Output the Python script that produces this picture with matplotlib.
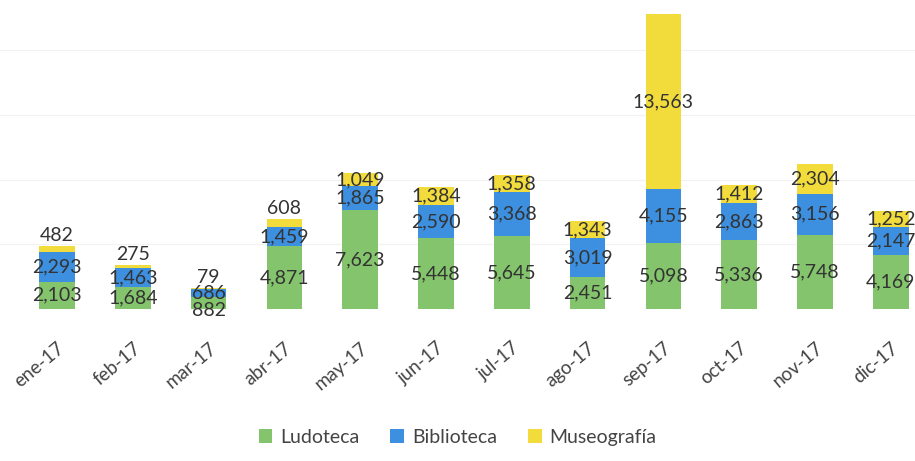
# Visitantes por mes 2017 - barras apiladas

import numpy as np
import matplotlib.pyplot as plt

plt.rcParams['font.family'] = ['Lato', 'DejaVu Sans']

# Datos
meses = ['ene-17', 'feb-17', 'mar-17', 'abr-17', 'may-17', 'jun-17',
         'jul-17', 'ago-17', 'sep-17', 'oct-17', 'nov-17', 'dic-17']
ludoteca = [2103, 1684, 882, 4871, 7623, 5448, 5645, 2451, 5098, 5336, 5748, 4169]
biblioteca = [2293, 1463, 686, 1459, 1865, 2590, 3368, 3019, 4155, 2863, 3156, 2147]
museografia = [482, 275, 79, 608, 1049, 1384, 1358, 1343, 13563, 1412, 2304, 1252]

series = [('Ludoteca', ludoteca, '#84c46c'),
          ('Biblioteca', biblioteca, '#3d8fe0'),
          ('Museografía', museografia, '#f2dc3c')]

fig = plt.figure(figsize=(9.15, 4.61), dpi=100)
ax = fig.add_axes([0, 0.33, 1, 0.645])

x = np.arange(len(meses))
base = np.zeros(len(meses))
for nombre, vals, color in series:
    vals = np.array(vals)
    ax.bar(x, vals, 0.47, bottom=base, color=color, label=nombre,
           edgecolor='none')
    for xi, b, v in zip(x, base, vals):
        if nombre == 'Museografía' and v < 700:
            # etiqueta encima de la barra cuando el segmento es pequeño
            ax.text(xi, b + v + 150, f'{v:,}', ha='center', va='bottom',
                    fontsize=14, color='#333333')
        elif nombre == 'Ludoteca' and v < 1000:
            # barra muy baja: etiqueta pegada a la base
            ax.text(xi, b + v / 2 - 550, f'{v:,}', ha='center', va='center',
                    fontsize=14, color='#333333', clip_on=False)
        else:
            ax.text(xi, b + v / 2, f'{v:,}', ha='center', va='center',
                    fontsize=14, color='#333333')
    base = base + vals

ax.set_xlim(-0.752, 11.32)
ax.set_ylim(0, 23000)
ax.set_yticks([5000, 10000, 15000, 20000])
ax.yaxis.grid(True, color='#f2f2f2', linewidth=0.8)
ax.set_axisbelow(True)
ax.tick_params(axis='y', left=False, labelleft=False)
ax.set_xticks(x)
ax.set_xticklabels(meses, rotation=40, ha='right', rotation_mode='anchor',
                   fontsize=13.5, color='#444444')
ax.tick_params(axis='x', length=0, pad=22)
for s in ax.spines.values():
    s.set_visible(False)

fig.legend(loc='center', bbox_to_anchor=(0.5, 0.052), ncol=3, frameon=False,
           fontsize=14, handlelength=0.7, handleheight=0.7, columnspacing=1.6,
           handletextpad=0.4, labelcolor='#444444')

fig.savefig('out.png', dpi=100)
